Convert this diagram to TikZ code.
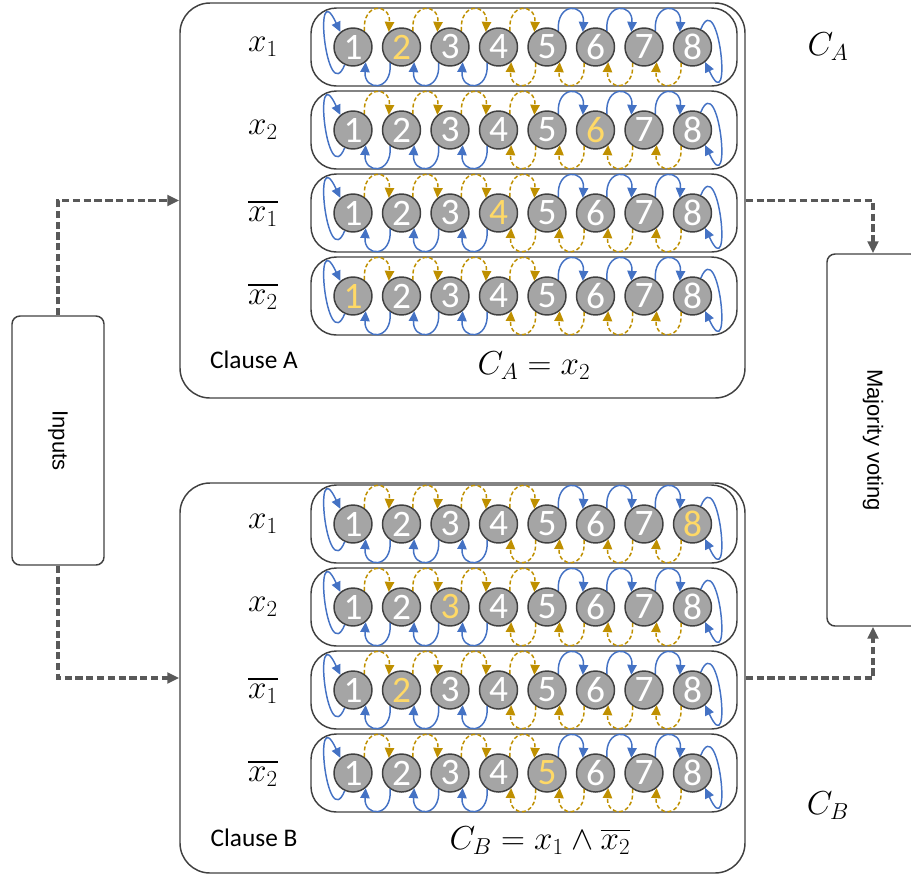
\documentclass[tikz,border=0pt]{standalone}
\usepackage{amssymb,amsmath,tikz,graphicx}
\usepackage{fontspec}
\setmainfont{Carlito}
\newfontfamily\arialfont{Liberation Sans}
\usetikzlibrary{arrows.meta}
\definecolor{tmblue}{HTML}{4472C4}
\definecolor{tmgold}{HTML}{BF9000}
\definecolor{tmgray}{HTML}{A5A5A5}
\definecolor{tmdark}{HTML}{404040}
\definecolor{tmflow}{HTML}{595959}
\definecolor{hilite}{HTML}{FFD966}

% one automaton row: name, y, literal, state printed in yellow
\newcommand{\tmrow}[4]{%
  \node[lit] (#1lab) at (263,#2) {#3};
  \node[rowbox] (#1) at (524,#2) {};
  \foreach \s in {1,...,8}{
    \ifnum\s=#4 \def\tcol{hilite}\else\def\tcol{white}\fi
    \node[state,text=\tcol] (#1-\s) at ({353+48.5*(\s-1)},#2) {\s};
  }
  \foreach \s [count=\t from 2] in {1,...,7}{
    \ifnum\s<5 \def\uparc{pen}\else\def\uparc{rew}\fi
    \ifnum\s<4 \def\dnarc{rew}\else\def\dnarc{pen}\fi
    \draw[\uparc] (#1-\s.55) .. controls +(-2,-29) and +(2,-29) .. (#1-\t.130);
    \draw[\dnarc] (#1-\t.235) .. controls +(2,29) and +(-2,29) .. (#1-\s.-50);
  }
  \draw[rew] (#1-1.245) .. controls +(-18,44) and +(-28,-60) .. (#1-1.130);
  \draw[rew] (#1-8.65) .. controls +(18,-44) and +(28,60) .. (#1-8.-50);
}

\begin{document}
\begin{tikzpicture}[x=0.75pt,y=-0.75pt,
  state/.style={circle,draw=tmdark,line width=1.1pt,fill=tmgray,minimum size=28.5pt,inner sep=0pt,font=\fontsize{28}{28}\selectfont},
  rowbox/.style={draw=tmdark,line width=1.1pt,rounded corners=19pt,minimum width=319.5pt,minimum height=58.5pt},
  clause/.style={draw=tmdark,line width=1.1pt,rounded corners=22.5pt,minimum width=423.75pt},
  sidebox/.style={draw=tmdark,line width=1.1pt,rounded corners=6pt,minimum width=69pt,inner sep=0pt,font=\arialfont\fontsize{16.5}{18}\selectfont},
  lit/.style={font=\fontsize{26}{28}\selectfont},
  note/.style={font=\fontsize{19}{21}\selectfont},
  rew/.style={draw=tmblue,line width=1.1pt,-{Triangle[length=7.5pt,width=7pt]}},
  pen/.style={draw=tmgold,line width=1.1pt,dash pattern=on 3pt off 1.8pt,-{Triangle[length=7.5pt,width=7pt]}},
  flow/.style={draw=tmflow,line width=2.6pt,dash pattern=on 5.5pt off 2.6pt,-{Triangle[length=9pt,width=8pt]}}]
\useasboundingbox (0,0) rectangle (911,876);

\node[clause,minimum height=296.25pt] (clauseA) at (462.5,200.5) {};
\node[clause,minimum height=292.5pt] (clauseB) at (462.5,678) {};
\node[sidebox,minimum height=186.75pt] (inputs) at (58,440.5) {\rotatebox{-90}{Inputs}};
\node[sidebox,minimum height=279pt] (vote) at (873,440) {\rotatebox{-90}{Majority voting}};

\tmrow{a1}{47}{$x_1$}{2}
\tmrow{a2}{130}{$x_2$}{6}
\tmrow{a3}{213}{$\overline{x_1}$}{4}
\tmrow{a4}{296}{$\overline{x_2}$}{1}
\tmrow{b1}{524}{$x_1$}{8}
\tmrow{b2}{607}{$x_2$}{3}
\tmrow{b3}{690}{$\overline{x_1}$}{2}
\tmrow{b4}{773}{$\overline{x_2}$}{5}

\node[note] (clauseAtxt) at (254,360) {Clause A};
\node[lit] (formA) at (534,366) {$C_A = x_2$};
\node[lit] (outA) at (828,47) {$C_A$};
\node[note] (clauseBtxt) at (254,838) {Clause B};
\node[lit] (formB) at (540,841) {$C_B = x_1 \land \overline{x_2}$};
\node[lit] (outB) at (828,806) {$C_B$};

\draw[flow] (inputs.north) |- (clauseA.west);
\draw[flow] (inputs.south) |- (clauseB.west);
\draw[flow] (clauseA.east) -| (vote.north);
\draw[flow] (clauseB.east) -| (vote.south);
\end{tikzpicture}
\end{document}
